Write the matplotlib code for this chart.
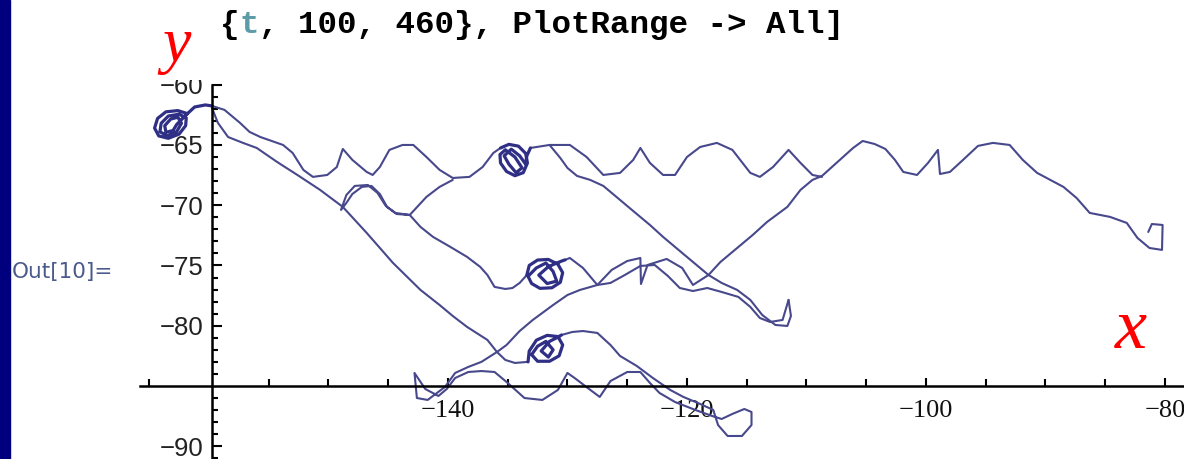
import matplotlib
matplotlib.use("Agg")
import matplotlib.pyplot as plt
from matplotlib.patches import Rectangle
from matplotlib.ticker import FixedLocator

# ---------------- data (trajectory) ----------------
# top-left gyration loop (dense) ending at the peak next to the y axis
loop1_x = [-161.8, -162.6, -163.6, -164.3, -164.55, -164.2, -163.4, -162.5, -161.95, -161.9,
           -162.5, -163.4, -164.0, -164.1, -163.5, -162.7, -162.3, -162.6,
           -163.2, -163.7, -163.6, -163.0, -162.7, -162.2, -161.8,
           -161.2, -160.3, -159.75]
loop1_y = [-62.4, -62.15, -62.25, -62.8, -63.6, -64.25, -64.45, -64.1, -63.4, -62.75,
           -62.45, -62.6, -63.2, -63.9, -64.25, -63.9, -63.2, -62.7,
           -62.85, -63.4, -63.95, -63.8, -63.3, -62.8, -62.4,
           -61.85, -61.68, -61.76]

# upper scalloped branch: peak -> loop 2
upper_left_x = [-159.75, -158.7, -157.4, -156.6, -155.7, -153.8, -153.0, -152.1, -151.3, -150.1,
                -149.3, -148.8, -148.0, -146.8, -146.3, -145.7, -144.9, -143.8, -142.9, -141.8,
                -140.7, -139.6, -138.2, -137.1, -136.2, -135.6]
upper_left_y = [-61.76, -62.09, -63.17, -63.92, -64.34, -65.0, -65.66, -67.07, -67.65, -67.49,
                -66.83, -65.33, -66.24, -67.24, -67.49, -66.83, -65.41, -65.0, -65.0, -66.0,
                -67.07, -67.74, -67.65, -66.83, -65.66, -65.25]

# hatched loop 2
loop2_x = [-135.6, -134.9, -134.1, -133.5, -133.35, -133.7, -134.4, -135.1, -135.6, -135.65,
           -135.2, -134.4, -133.8, -134.3, -134.9, -135.3, -134.7, -134.0, -133.5, -133.4,
           -133.1]
loop2_y = [-65.25, -64.95, -65.1, -65.7, -66.5, -67.3, -67.55, -67.2, -66.5, -65.8,
           -65.4, -66.0, -66.9, -67.3, -66.6, -65.9, -65.35, -65.9, -66.6, -65.9,
           -65.25]

# upper scalloped branch: loop 2 -> junction
upper_mid_x = [-133.1, -131.5, -129.8, -128.4, -127.0, -125.6, -124.5, -123.9, -123.1, -122.0,
               -121.0, -120.0, -118.9, -117.5, -116.2, -114.7, -113.9, -112.8, -111.5, -110.5,
               -109.5, -108.7]
upper_mid_y = [-65.25, -65.0, -65.0, -66.0, -67.49, -67.32, -66.24, -65.25, -66.49, -67.49,
               -67.49, -66.0, -65.17, -64.83, -65.41, -67.32, -67.65, -66.83, -65.41, -66.49,
               -67.49, -67.65]

# diagonal from loop 2 down to the right turning spike
diag2_x = [-131.5, -130.6, -130.0, -129.2, -128.1, -127.0, -126.0, -124.5, -123.1, -122.0,
           -120.8, -119.5, -118.2, -117.1, -115.8, -114.7, -113.7, -112.6, -111.6, -111.3,
           -111.5]
diag2_y = [-65.0, -66.08, -66.91, -67.57, -67.9, -68.4, -69.23, -70.48, -71.64, -72.63,
           -73.63, -74.71, -75.79, -76.45, -77.03, -77.86, -79.11, -79.94, -80.02, -79.19,
           -77.86]

# rising branch to the upper right and the end loop
right_x = [-118.2, -117.2, -115.8, -114.5, -113.3, -111.6, -110.5, -109.5, -108.7, -107.4,
           -106.1, -105.3, -104.3, -103.4, -102.6, -101.9, -100.75, -99.83, -99.0, -98.83,
           -98.0, -96.9, -95.65, -94.4, -93.0, -91.9, -90.7, -89.6, -88.5, -87.4,
           -86.3, -84.6, -83.2, -82.3, -81.3, -80.25, -80.2, -81.1, -81.4]
right_y = [-75.79, -74.71, -73.55, -72.47, -71.39, -70.14, -68.73, -67.9, -67.57, -66.41,
           -65.25, -64.67, -64.92, -65.33, -66.24, -67.24, -67.49, -66.49, -65.41, -67.41,
           -67.24, -66.24, -65.08, -64.83, -65.0, -66.24, -67.32, -67.9, -68.48, -69.4,
           -70.64, -70.97, -71.47, -72.72, -73.55, -73.71, -71.64, -71.56, -72.22]

# long lower diagonal from the peak to the lower crossing
diag1_x = [-159.75, -159.25, -158.4, -157.15, -156.0, -154.3, -152.6, -150.7, -148.8, -146.8,
           -144.6, -142.3, -140.7, -139.6, -138.4, -136.7, -135.9]
diag1_y = [-61.93, -63.17, -64.34, -64.83, -65.25, -66.41, -67.49, -68.73, -70.14, -72.3,
           -74.79, -77.03, -78.28, -79.19, -80.1, -81.18, -82.18]

# lower crossing -> hatched loop 4
to_loop4_x = [-135.9, -135.2, -134.4, -133.3]
to_loop4_y = [-82.18, -82.84, -83.09, -83.0]
loop4_x = [-133.3, -133.2, -132.6, -131.7, -130.8, -130.4, -130.7, -131.5, -132.5, -133.0,
           -132.5, -131.8, -131.2, -131.6, -132.2, -131.5, -130.9, -130.5]
loop4_y = [-83.0, -82.1, -81.2, -80.8, -80.9, -81.6, -82.5, -82.95, -82.95, -82.4,
           -81.7, -81.3, -82.0, -82.6, -82.1, -81.3, -81.0, -80.77]

# loop 4 -> bottom loop -> wiggles along the x axis -> lower crossing
lower_x = [-130.5, -129.6, -128.7, -127.5, -126.4, -125.6, -124.2, -122.85, -121.4, -120.3,
           -118.9, -117.8,
           -117.4, -116.6, -115.4, -114.6, -114.6, -115.2, -116.2, -117.1, -117.9,
           -119.3, -121.0, -122.3, -123.1, -123.9, -125.0, -126.4, -127.3, -128.3, -129.4,
           -130.0, -130.8, -132.1, -133.6, -135.0, -136.1, -137.2, -138.3,
           -139.4, -140.1, -140.8, -141.9, -142.8, -142.6, -141.7, -140.25, -139.4, -138.3,
           -137.2, -135.9]
lower_y = [-80.77, -80.52, -80.44, -80.6, -81.6, -82.51, -83.34, -84.34, -85.33, -85.91,
           -86.49, -86.99,
           -88.24, -89.15, -89.15, -88.24, -87.16, -86.91, -87.32, -87.74, -87.49,
           -86.99, -86.33, -85.58, -84.75, -83.84, -83.84, -84.59, -85.91, -85.17, -84.34,
           -83.92, -85.33, -86.16, -86.0, -84.75, -83.84, -83.76, -83.84,
           -84.34, -85.25, -85.83, -85.25, -83.92, -86.0, -86.16, -85.08, -83.92, -83.42,
           -83.0, -82.18]

# rising line from the lower crossing to the spike
rise_x = [-135.9, -135.1, -134.0, -132.9, -131.2, -130.0, -128.95, -127.5, -126.4, -125.2,
          -123.9, -122.7, -121.6, -120.6, -119.5, -118.3, -117.1, -115.7, -114.7, -113.9,
          -113.05, -112.0, -111.5]
rise_y = [-82.18, -81.6, -80.44, -79.52, -78.28, -77.45, -77.03, -76.62, -76.45, -75.79,
          -75.04, -74.96, -75.87, -76.87, -77.12, -76.87, -77.2, -77.61, -78.44, -79.36,
          -79.69, -79.52, -77.86]

# middle branch: junction -> small loop -> towards loop 3
mid_x = [-139.6, -140.7, -141.8, -143.2, -144.4, -145.2, -145.9, -146.7, -147.8, -148.5,
         -148.95, -148.5, -148.0, -147.2, -146.4, -145.7, -145.1, -144.3, -143.2, -142.3,
         -141.25, -139.8, -138.4, -137.3, -136.7, -136.1, -135.2, -134.6, -134.0, -133.4]
mid_y = [-67.9, -68.48, -69.31, -70.81, -70.64, -70.06, -68.98, -68.32, -68.4, -69.15,
         -70.39, -69.81, -69.07, -68.48, -68.4, -69.07, -70.14, -70.73, -70.81, -71.8,
         -72.63, -73.46, -74.29, -75.12, -75.79, -76.78, -76.95, -76.87, -76.45, -75.79]

# hatched loop 3
loop3_x = [-133.4, -133.2, -132.5, -131.6, -130.8, -130.4, -130.6, -131.3, -132.3, -133.0,
           -133.3, -132.6, -131.8, -131.2, -130.9, -131.7, -132.4, -131.6, -130.9, -130.4,
           -130.2]
loop3_y = [-75.79, -75.0, -74.55, -74.5, -74.9, -75.6, -76.4, -76.85, -76.9, -76.5,
           -75.9, -75.2, -74.8, -75.5, -76.3, -76.5, -75.8, -75.1, -74.8, -74.6,
           -74.54]

# braid from loop 3 to the upper crossing
braid_x = [-130.2, -129.8, -128.7, -127.5, -126.3, -125.0, -123.9, -123.85, -123.3, -121.7,
           -120.4, -119.5, -118.2]
braid_y = [-74.54, -74.38, -75.21, -76.62, -75.37, -74.63, -74.38, -76.54, -74.96, -74.46,
           -75.21, -76.62, -75.79]

line_segments = [(upper_left_x, upper_left_y), (upper_mid_x, upper_mid_y), (diag2_x, diag2_y),
                 (right_x, right_y), (diag1_x, diag1_y), (to_loop4_x, to_loop4_y),
                 (lower_x, lower_y), (rise_x, rise_y), (mid_x, mid_y), (braid_x, braid_y)]
loop_segments = [(loop1_x, loop1_y), (loop2_x, loop2_y), (loop3_x, loop3_y), (loop4_x, loop4_y)]

x_major = [-140, -120, -100, -80]
x_minor = [-165, -155, -150, -145, -135, -130, -125, -115, -110, -105, -95, -90, -85]
y_major = [-90, -80, -75, -70, -65, -60]
y_minor = [v for v in range(-91, -59) if v not in y_major and v != -85]

# ---------------- figure ----------------
W, H = 1184, 459
fig = plt.figure(figsize=(W / 100, H / 100), dpi=100)
fig.patch.set_facecolor("white")

ax = fig.add_axes([140 / W, 0, 1044 / W, 379 / H])
ax.set_facecolor("none")
ax.set_xlim(-165.77, -78.41)
ax.set_ylim(-91.06, -59.61)

line_color = "#48488c"
for sx, sy in line_segments:
    ax.plot(sx, sy, color=line_color, lw=1.5, solid_joinstyle="round", solid_capstyle="round")
for sx, sy in loop_segments:
    ax.plot(sx, sy, color="#2f2f86", lw=2.3, solid_joinstyle="round", solid_capstyle="round")

for s in ("top", "right"):
    ax.spines[s].set_visible(False)
ax.spines["left"].set_position(("data", -159.75))
ax.spines["left"].set_bounds(-91.06, -60.0)
ax.spines["bottom"].set_position(("data", -85))
for s in ("left", "bottom"):
    ax.spines[s].set_linewidth(1.8)
    ax.spines[s].set_color("black")

ax.xaxis.set_major_locator(FixedLocator(x_major))
ax.xaxis.set_minor_locator(FixedLocator(x_minor))
ax.yaxis.set_major_locator(FixedLocator(y_major))
ax.yaxis.set_minor_locator(FixedLocator(y_minor))
ax.set_xticklabels([f"\u2212{abs(v)}" for v in x_major])
ax.set_yticklabels([f"\u2212{abs(v)}" for v in y_major])

ax.tick_params(axis="x", which="major", direction="in", length=5.5, width=1.5, pad=10,
               labelsize=19, labelcolor="#111111")
ax.tick_params(axis="x", which="minor", direction="in", length=5, width=1.5)
ax.tick_params(axis="y", which="major", direction="in", length=7, width=1.5, pad=6,
               labelsize=18.5, labelcolor="#222222")
ax.tick_params(axis="y", which="minor", direction="in", length=4.5, width=1.5)
for lbl in ax.get_xticklabels():
    lbl.set_fontfamily("Liberation Serif")
for lbl in ax.get_yticklabels():
    lbl.set_fontfamily("Liberation Sans")
    lbl.set_clip_on(True)
    lbl.set_clip_box(ax.bbox)

# ---------------- surrounding notebook decorations ----------------
fig.add_artist(Rectangle((0, 0), 10 / W, 1, transform=fig.transFigure,
                         color="#00007f", zorder=5))

mono = dict(family="Liberation Mono", weight="bold", fontsize=23.4, va="baseline")
base_y = 1 - 33 / H
fig.text(220 / W, base_y, "{", color="black", **mono)
fig.text(239.5 / W, base_y, "t", color="#5c9ba8", **mono)
fig.text(259 / W, base_y, ", 100, 460}, PlotRange -> All]", color="black", **mono)

fig.text(162 / W, 1 - 61 / H, "y", color="#ff0000", family="Liberation Serif",
         style="italic", fontsize=46, va="baseline", ha="left")
fig.text(1115 / W, 1 - 348 / H, "x", color="#ff0000", family="Liberation Serif",
         style="italic", fontsize=52, va="baseline", ha="left")

fig.text(12 / W, 1 - 272 / H, "Out[10]=", color="#4b5a8c", family="DejaVu Sans",
         fontsize=15.5, va="center", ha="left")

fig.savefig("out.png", dpi=100, facecolor="white")
